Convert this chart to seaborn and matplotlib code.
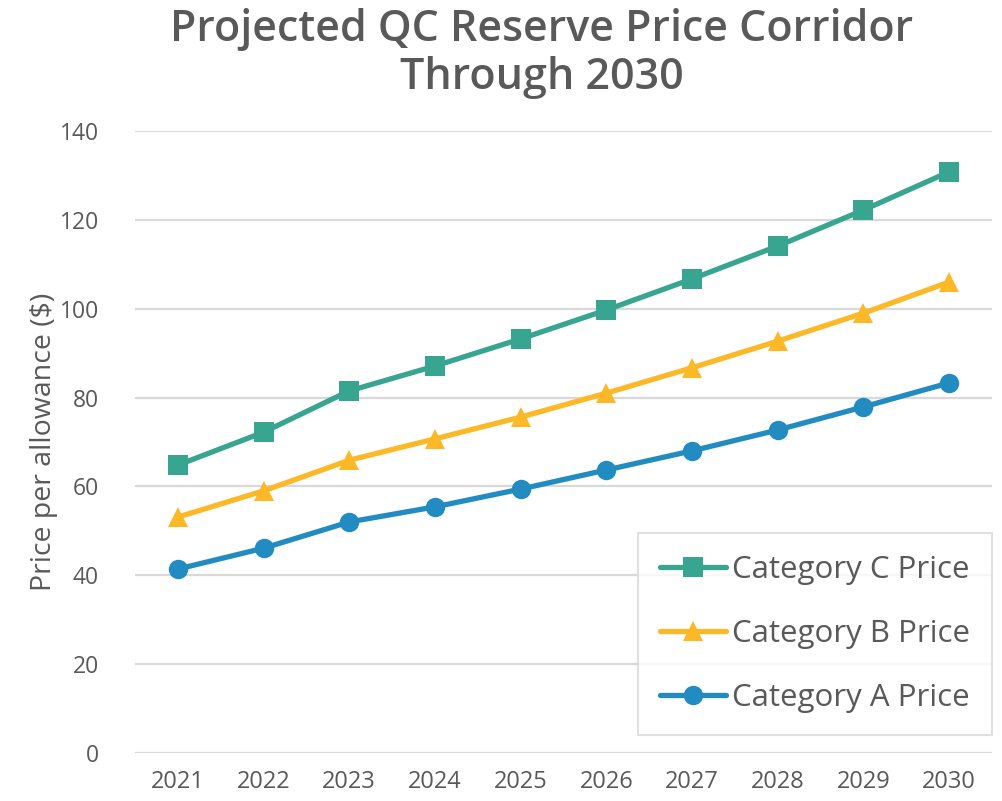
import matplotlib
matplotlib.use("Agg")
import matplotlib.pyplot as plt
import seaborn as sns
import pandas as pd

# dados
anos = ['2021', '2022', '2023', '2024', '2025', '2026', '2027', '2028', '2029', '2030']
preco_c = [64.8, 72.2, 81.5, 87.1, 93.2, 99.7, 106.7, 114.1, 122.2, 130.8]
preco_b = [53.1, 59.0, 65.9, 70.7, 75.6, 81.0, 86.7, 92.7, 99.0, 106.0]
preco_a = [41.4, 46.1, 52.0, 55.4, 59.4, 63.7, 68.0, 72.7, 77.9, 83.3]

series = ['Category C Price', 'Category B Price', 'Category A Price']
valores = [preco_c, preco_b, preco_a]
cores = ['#38A591', '#FDB827', '#228BC1']
marcadores = ['s', '^', 'o']

sns.set_style("white")
plt.rcParams['font.family'] = ['Open Sans', 'DejaVu Sans']
cinza = '#595959'

fig = plt.figure(figsize=(10.03, 8.01), dpi=100)
ax = fig.add_axes([0.1346, 0.0599, 0.8544, 0.7766])

for nome, vals, cor, mk in zip(series, valores, cores, marcadores):
    df = pd.DataFrame({'x': range(len(anos)), 'y': vals})
    sns.lineplot(data=df, x='x', y='y', ax=ax, color=cor, marker=mk,
                 markersize=14, markeredgewidth=0, linewidth=3.8,
                 label=nome)

ax.set_xlim(-0.5, len(anos) - 0.5)
ax.set_ylim(0, 140)
ax.set_xticks(range(len(anos)))
ax.set_xticklabels(anos)
ax.set_yticks(range(0, 141, 20))
ax.yaxis.grid(True, color='#D9D9D9', linewidth=1.6)
ax.set_axisbelow(True)
sns.despine(ax=ax, left=True, bottom=True, top=True, right=True)
ax.tick_params(axis='both', length=0, labelsize=16.5, labelcolor=cinza)
ax.tick_params(axis='x', labelsize=17)
ax.tick_params(axis='y', pad=26)
ax.tick_params(axis='x', pad=12)
ax.set_xlabel('')
ax.set_ylabel('Price per allowance ($)', fontsize=20.5, color=cinza, labelpad=1)

fig.suptitle('Projected QC Reserve Price Corridor\nThrough 2030', fontsize=31,
             fontweight='semibold', color=cinza, x=0.54, y=0.99, linespacing=1.15)

leg = ax.legend(loc='upper right', bbox_to_anchor=(1.0, 0.354), borderaxespad=0,
                fontsize=22.5, frameon=True, fancybox=False, handlelength=2.1,
                handletextpad=0.2, labelspacing=1.1, borderpad=0.7)
leg.get_frame().set_edgecolor('#D9D9D9')
leg.get_frame().set_linewidth(1.5)
for t in leg.get_texts():
    t.set_color(cinza)

fig.savefig('out.png', dpi=100)
